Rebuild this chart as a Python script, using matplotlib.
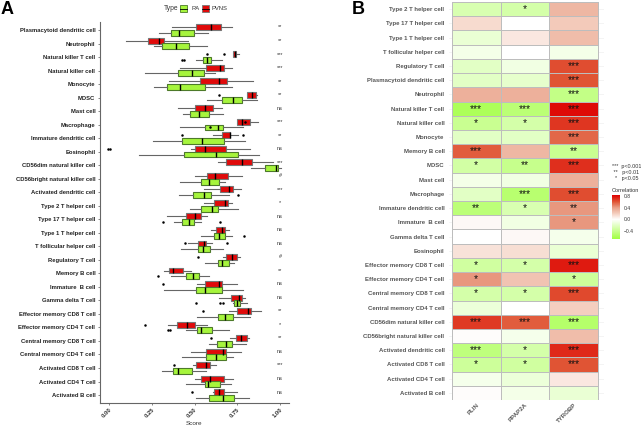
import numpy as np
import matplotlib
matplotlib.use('Agg')
import matplotlib.pyplot as plt
from matplotlib.colors import LinearSegmentedColormap, Normalize
from matplotlib.cm import ScalarMappable
from matplotlib.patches import Rectangle

plt.rcParams['font.family'] = ['Liberation Sans', 'DejaVu Sans']

# panel A, top to bottom
cells_a = ['Plasmacytoid dendritic cell', 'Neutrophil', 'Natural killer T cell', 'Natural killer cell',
           'Monocyte', 'MDSC', 'Mast cell', 'Macrophage', 'Immature dendritic cell', 'Eosinophil',
           'CD56dim natural killer cell', 'CD56bright natural killer cell', 'Activated dendritic cell',
           'Type 2 T helper cell', 'Type 17 T helper cell', 'Type 1 T helper cell', 'T follicular helper cell',
           'Regulatory T cell', 'Memory B cell', 'Immature  B cell', 'Gamma delta T cell',
           'Effector memory CD8 T cell', 'Effector memory CD4 T cell', 'Central memory CD8 T cell',
           'Central memory CD4 T cell', 'Activated CD8 T cell', 'Activated CD4 T cell', 'Activated B cell']

# whisker low, q1, median, q3, whisker high
pvns_stats = [[.37, .507, .598, .657, .717], [.099, .226, .292, .324, .46], [.725, .727, .735, .743, .758],
              [.415, .565, .647, .674, .717], [.351, .534, .645, .688, .844], [.807, .809, .838, .862, .864],
              [.405, .505, .561, .606, .659], [.749, .749, .78, .823, .869], [.606, .661, .706, .706, .756],
              [.481, .501, .559, .682, .825], [.637, .686, .78, .834, .957], [.503, .575, .622, .694, .776],
              [.556, .649, .7, .727, .77], [.554, .612, .68, .696, .721], [.339, .452, .501, .538, .575],
              [.598, .628, .663, .676, .703], [.464, .522, .556, .567, .602], [.669, .682, .721, .75, .766],
              [.322, .353, .376, .435, .481], [.517, .559, .645, .663, .747], [.641, .715, .76, .776, .793],
              [.704, .75, .811, .828, .887], [.347, .4, .456, .501, .571], [.708, .741, .77, .809, .821],
              [.481, .569, .665, .682, .772], [.493, .511, .565, .591, .624], [.501, .538, .589, .673, .723],
              [.606, .612, .643, .67, .75]]
ra_stats = [[.292, .365, .409, .499, .577], [.265, .312, .39, .47, .571], [.511, .552, .571, .598, .659],
            [.212, .405, .483, .554, .62], [.265, .341, .417, .563, .719], [.575, .663, .727, .776, .867],
            [.435, .474, .526, .585, .665], [.415, .563, .637, .665, .782], [.257, .425, .544, .674, .795],
            [.175, .441, .628, .752, .875], [.83, .914, .975, .988, 1.004], [.413, .536, .583, .645, .676],
            [.411, .489, .558, .595, .7], [.472, .54, .6, .639, .756], [.38, .425, .466, .499, .538],
            [.538, .612, .645, .68, .721], [.419, .519, .552, .593, .665], [.563, .637, .663, .704, .733],
            [.365, .448, .491, .528, .583], [.32, .507, .563, .659, .782], [.723, .733, .75, .768, .809],
            [.515, .639, .678, .727, .823], [.45, .513, .538, .6, .704], [.587, .63, .686, .721, .801],
            [.429, .569, .628, .686, .725], [.308, .372, .404, .487, .565], [.448, .563, .579, .647, .713],
            [.507, .583, .669, .733, .817]]
pvns_fliers = {2: [.575, .674], 5: [.641], 7: [.797], 8: [.427, .782], 9: [-.004, .008], 16: [.442, .688],
               17: [.52], 19: [.318], 21: [.548], 22: [.211], 23: [.598], 25: [.38], 27: [.485]}
ra_fliers = {2: [.425, .439], 7: [.591], 12: [.754], 14: [.314, .649], 15: [.791], 18: [.288],
             20: [.511, .647, .669], 22: [.347, .357]}
sig_a = ['**', '**', '***', '***', '**', '**', 'ns', '***', '**', 'ns', '***', '#', '***', '*',
         'ns', 'ns', 'ns', '#', '**', 'ns', 'ns', '**', '*', '**', 'ns', '***', 'ns', 'ns']
score_ticks = [0, .25, .5, .75, 1]

# panel B, top to bottom
cells_b = ['Type 2 T helper cell', 'Type 17 T helper cell', 'Type 1 T helper cell', 'T follicular helper cell',
           'Regulatory T cell', 'Plasmacytoid dendritic cell', 'Neutrophil', 'Natural killer T cell',
           'Natural killer cell', 'Monocyte', 'Memory B cell', 'MDSC', 'Mast cell', 'Macrophage',
           'Immature dendritic cell', 'Immature  B cell', 'Gamma delta T cell', 'Eosinophil',
           'Effector memory CD8 T cell', 'Effector memory CD4 T cell', 'Central memory CD8 T cell',
           'Central memory CD4 T cell', 'CD56dim natural killer cell', 'CD56bright natural killer cell',
           'Activated dendritic cell', 'Activated CD8 T cell', 'Activated CD4 T cell', 'Activated B cell']
genes = ['PLIN', 'PPAP2A', 'TYROBP']
corr = [[-.27, -.3, .3], [.15, 0, .22], [-.15, .1, .28], [-.08, 0, -.08], [-.2, -.1, .62], [-.2, -.18, .6],
        [.33, .33, -.42], [-.58, -.48, .8], [-.38, -.3, .68], [-.2, -.2, .55], [.58, .3, -.38], [-.32, -.4, .7],
        [-.08, -.1, .33], [-.2, -.5, .62], [-.47, -.27, .42], [.03, -.1, .42], [0, .03, -.07], [.12, .14, -.15],
        [-.33, -.3, .76], [.42, .25, -.35], [-.3, -.3, .63], [-.13, 0, .2], [.67, .58, -.52], [.01, -.07, .28],
        [-.45, -.3, .72], [-.35, -.33, .6], [-.07, -.13, .1], [.01, -.08, -.15]]
stars = [['', '*', ''], ['', '', ''], ['', '', ''], ['', '', ''], ['', '', '***'], ['', '', '***'],
         ['', '', '***'], ['***', '***', '***'], ['*', '*', '***'], ['', '', '***'], ['***', '', '**'],
         ['*', '**', '***'], ['', '', ''], ['', '***', '***'], ['**', '*', '**'], ['', '', '*'],
         ['', '', ''], ['', '', ''], ['*', '*', '***'], ['*', '', '*'], ['*', '*', '***'], ['', '', ''],
         ['***', '***', '***'], ['', '', ''], ['***', '*', '***'], ['*', '*', '***'], ['', '', ''], ['', '', '']]
cbar_ticks = [.8, .4, 0, -.4]

W, H = 641, 425
fig = plt.figure(figsize=(W / 100, H / 100), dpi=100)


def px_axes(left, top, right, bottom):
    return fig.add_axes([left / W, 1 - bottom / H, (right - left) / W, (bottom - top) / H])


GREEN = '#a6f53c'
RED = '#e00a0a'

# ---- panel A
ax = px_axes(99.5, 22, 289, 402.7)
n = len(cells_a)
for stats, fliers, off, col, edge in [(pvns_stats, pvns_fliers, -.21, RED, '#777777'),
                                      (ra_stats, ra_fliers, .21, GREEN, '#4d7a2a')]:
    bxp_stats = []
    for i, s in enumerate(stats):
        bxp_stats.append({'whislo': s[0], 'q1': s[1], 'med': s[2], 'q3': s[3], 'whishi': s[4],
                          'fliers': fliers.get(i, [])})
    ax.bxp(bxp_stats, positions=np.arange(n) + off, widths=.44, orientation='horizontal', showcaps=False,
           patch_artist=True, manage_ticks=False,
           boxprops={'facecolor': col, 'edgecolor': edge, 'linewidth': .8},
           medianprops={'color': 'black', 'linewidth': 1},
           whiskerprops={'color': '#666666', 'linewidth': .8},
           flierprops={'marker': 'o', 'markersize': 1.8, 'markerfacecolor': 'black',
                       'markeredgecolor': 'black', 'markeredgewidth': 0})
for i, lab in enumerate(sig_a):
    ax.text(1.0, i - .22, lab, ha='center', va='center', fontsize=4, color='#333333')
ax.set_xlim(-.0556, 1.0526)
ax.set_ylim((402.7 - 30) / 13.52, (22 - 30) / 13.52)
ax.set_yticks(np.arange(n))
ax.set_yticklabels(cells_a, fontsize=4.25, fontweight='bold', color='#222222')
ax.set_xticks(score_ticks)
ax.set_xticklabels(['%.2f' % t for t in score_ticks], rotation=45, ha='right', rotation_mode='anchor',
                   fontsize=4.2, fontweight='bold', color='#333333')
ax.set_xlabel('Score', fontsize=4.6, color='#333333', labelpad=1.5)
ax.tick_params(length=1.5, width=.5, pad=1.5, color='#555555')
ax.spines[['top', 'right']].set_visible(False)
ax.spines[['left', 'bottom']].set_color('#666666')
ax.spines[['left', 'bottom']].set_linewidth(.8)

# legend of panel A
fig.text(163.5 / W, 1 - 8.5 / H, 'Type', fontsize=4.8, color='#333333', va='center')
fig.text(191 / W, 1 - 8.5 / H, 'RA', fontsize=4.2, color='#333333', va='center')
fig.text(212 / W, 1 - 8.5 / H, 'PVNS', fontsize=4.2, color='#333333', va='center')
for x0, col, edge in [(180, GREEN, '#4d7a2a'), (202, RED, '#777777')]:
    fig.add_artist(Rectangle((x0 / W, 1 - 12 / H), 6.5 / W, 7 / H, transform=fig.transFigure,
                             facecolor=col, edgecolor=edge, linewidth=.6))
    fig.add_artist(plt.Line2D([x0 / W, (x0 + 6.5) / W], [1 - 8.5 / H] * 2, color='black', linewidth=.6,
                              transform=fig.transFigure))

fig.text(1 / W, 1 - 9.5 / H, 'A', fontsize=13, fontweight='bold', va='center')
fig.text(351.5 / W, 1 - 9 / H, 'B', fontsize=13, fontweight='bold', va='center')

# ---- panel B
cmap = LinearSegmentedColormap.from_list('corr', [(0, '#a3ff45'), (.65 / 1.48, '#ffffff'),
                                                  (.85 / 1.48, '#f4cfc0'), (1.05 / 1.48, '#e9a088'),
                                                  (1.25 / 1.48, '#e05535'), (1, '#de0000')])
norm = Normalize(-.65, .83)
bx = px_axes(449.3, 2, 604, 400)
m = len(cells_b)
bx.pcolormesh(np.arange(4), np.arange(m + 1), np.array(corr), cmap=cmap, norm=norm,
              edgecolors='#bdbdbd', linewidth=.7, zorder=2)
for r, row in enumerate(stars):
    for c, lab in enumerate(row):
        if lab:
            bx.text(c + .5, r + .5, lab, ha='center', va='center', fontsize=7.4, color='#111111', zorder=3)
bx.set_xlim(-.05, 3.117)
bx.set_ylim(m, 0)
bx.set_yticks(np.arange(m) + .5)
bx.set_yticklabels(cells_b, fontsize=4.35, fontweight='bold', color='#555555')
bx.set_xticks(np.arange(3) + .5)
bx.set_xticklabels(genes, rotation=45, ha='right', rotation_mode='anchor', fontsize=4.4, fontweight='bold',
                   color='#555555')
bx.tick_params(axis='y', length=0, pad=3.5)
bx.tick_params(axis='x', length=0, pad=1.5)
bx.grid(axis='y', color='#f0f0f0', linewidth=.5, zorder=0)
bx.set_axisbelow(True)
for side in bx.spines.values():
    side.set_visible(False)

# p value key and colour bar
for y, lab in [(166.7, '***  p<0.001'), (172.7, ' **   p<0.01'), (178.3, '  *   p<0.05')]:
    fig.text(611.5 / W, 1 - y / H, lab, fontsize=3.9, color='#333333', va='center')
fig.text(612 / W, 1 - 190.5 / H, 'Correlation', fontsize=4.1, color='#333333', va='center')
cax = px_axes(612, 195, 620, 238.5)
cb = fig.colorbar(ScalarMappable(norm=norm, cmap=cmap), cax=cax)
cb.set_ticks(cbar_ticks)
cb.set_ticklabels(['0.8', '0.4', '0.0', '\u22120.4'])
cb.ax.tick_params(labelsize=3.6, length=0, pad=2.5, labelcolor='#333333')
cb.outline.set_visible(False)

fig.savefig('out.png', dpi=100)
